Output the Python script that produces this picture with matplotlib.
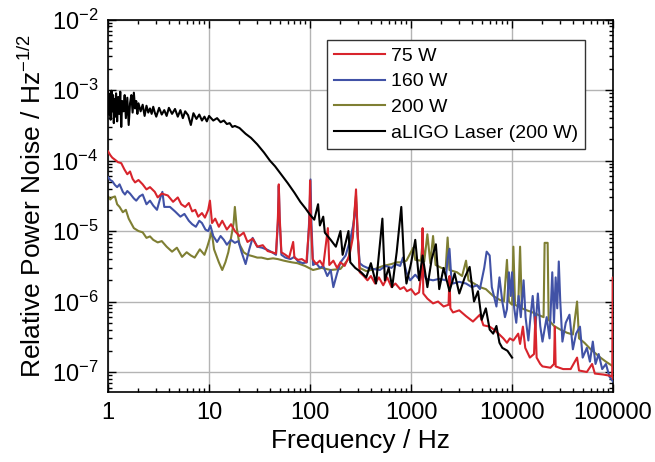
import matplotlib
matplotlib.use("Agg")
import matplotlib.pyplot as plt
from matplotlib.ticker import LogLocator, NullFormatter, FixedLocator, FixedFormatter

plt.rcParams['font.family'] = ['Liberation Sans', 'DejaVu Sans']
plt.rcParams['mathtext.fontset'] = 'custom'
plt.rcParams['mathtext.rm'] = 'Liberation Sans'
plt.rcParams['mathtext.it'] = 'Liberation Sans:italic'

# ---- data (frequency in Hz, RPN in 1/sqrt(Hz)) ----
f_75w = [1.0, 1.05, 1.1, 1.2, 1.25, 1.35, 1.45, 1.55, 1.65, 1.75, 1.85, 2.0, 2.2, 2.4,
         2.6, 2.9, 3.1, 3.4, 3.9, 4.4, 4.9, 5.3, 5.8, 6.3, 6.8, 7.3, 7.8, 8.5, 9.1, 9.8,
         10.2, 10.7, 11.5, 12.5, 13.5, 15, 16.5, 18, 20, 22, 24, 27, 30, 34, 38, 42, 46,
         48, 49, 50, 52, 57, 62, 68, 70, 76, 83, 92, 98, 100, 102, 106, 115, 125, 135,
         150, 155, 170, 185, 200, 220, 245, 265, 285, 295, 310, 340, 370, 400, 440, 480,
         530, 580, 640, 700, 780, 850, 910, 1000, 1100, 1200, 1280, 1300, 1320, 1450,
         1650, 1850, 2100, 2350, 2400, 2450, 2600, 3000, 3500, 4100, 4800, 5200, 6000,
         6600, 7500, 8200, 8900, 9500, 10300, 11500, 12000, 12800, 13500, 15000, 16500,
         17000, 17500, 19000, 20000, 24000, 26000, 26500, 27000, 32000, 38000, 44000,
         46000, 55000, 62000, 66000, 80000, 95000, 98000, 99500, 100000]
p_75w = [1.35e-4, 1.2e-4, 1.1e-4, 1.0e-4, 9.5e-5, 9.2e-5, 7.5e-5, 6.4e-5, 7.0e-5, 5.5e-5,
         4.9e-5, 5.3e-5, 4.6e-5, 3.9e-5, 4.2e-5, 3.6e-5, 3.0e-5, 3.4e-5, 3.2e-5, 2.6e-5,
         3.0e-5, 2.4e-5, 2.2e-5, 2.5e-5, 1.9e-5, 2.0e-5, 1.6e-5, 1.8e-5, 1.55e-5, 2.0e-5,
         2.7e-5, 1.3e-5, 1.5e-5, 1.15e-5, 1.4e-5, 1.05e-5, 1.25e-5, 1.0e-5, 8.5e-6, 9.5e-6,
         7.0e-6, 7.8e-6, 6.0e-6, 6.3e-6, 5.2e-6, 5.0e-6, 4.8e-6, 1.5e-5, 4.6e-5, 1.6e-5,
         5.0e-6, 4.6e-6, 4.2e-6, 7.0e-6, 4.2e-6, 3.9e-6, 4.0e-6, 3.6e-6, 1.2e-5, 5.2e-5,
         1.3e-5, 4.0e-6, 3.4e-6, 3.8e-6, 3.2e-6, 1.1e-5, 3.3e-6, 3.8e-6, 3.0e-6, 3.6e-6,
         3.2e-6, 4.5e-6, 8.0e-6, 3.9e-5, 1.0e-5, 2.6e-6, 2.3e-6, 2.0e-6, 2.3e-6, 1.8e-6,
         2.2e-6, 1.7e-6, 2.2e-6, 1.6e-6, 1.8e-6, 1.5e-6, 1.6e-6, 1.4e-6, 1.5e-6, 1.25e-6,
         1.35e-6, 3.0e-6, 1.1e-5, 1.3e-6, 1.1e-6, 9.4e-7, 1.0e-6, 8.5e-7, 9.0e-7, 2.3e-6,
         8.0e-7, 7.0e-7, 7.5e-7, 6.2e-7, 5.2e-7, 6.5e-7, 4.6e-7, 4.4e-7, 4.0e-7, 3.4e-7,
         3.0e-7, 2.6e-7, 3.0e-7, 2.8e-7, 3.5e-7, 2.5e-7, 4.4e-7, 2.2e-7, 1.6e-7, 1.8e-7,
         6.0e-7, 1.6e-7, 1.3e-7, 1.2e-7, 1.15e-7, 1.3e-7, 4.4e-7, 1.2e-7, 1.1e-7, 1.1e-7,
         1.6e-7, 1.05e-7, 1.0e-7, 1.3e-7, 9.5e-8, 9.2e-8, 8.8e-8, 8.5e-8, 2.2e-6, 8.0e-8]

f_160w = [1.0, 1.05, 1.1, 1.17, 1.23, 1.3, 1.4, 1.47, 1.55, 1.65, 1.8, 1.9, 2.05, 2.2,
          2.4, 2.6, 2.8, 3.05, 3.3, 3.45, 3.6, 4.1, 4.6, 5.2, 5.7, 6.3, 6.8, 7.4, 8.0, 8.5,
          9.2, 9.8, 10.3, 11, 12, 13, 14, 15, 16.5, 18, 19.5, 21, 23, 25, 27, 30, 33.5,
          38, 42, 46, 48, 49, 50, 52, 57, 64, 70, 76, 85, 93, 98, 101, 103, 107, 115, 125,
          135, 148, 160, 170, 185, 200, 225, 250, 270, 285, 295, 310, 335, 370, 420, 490,
          560, 640, 700, 780, 830, 900, 980, 1100, 1230, 1300, 1400, 1650, 1900, 2200,
          2300, 2400, 2500, 2600, 3000, 3500, 4000, 4500, 4800, 5300, 5600, 6000, 6300,
          7000, 7500, 8000, 8500, 8900, 9300, 9700, 10000, 10500, 11000, 11600, 12200,
          13000, 13600, 14500, 15200, 16000, 17000, 18000, 19000, 20000, 22000, 23500,
          25000, 26000, 27000, 28000, 29000, 30000, 31500, 34000, 37000, 40000, 43000,
          47000, 50000, 55000, 59000, 63000, 67000, 72000, 78000, 85000, 92000, 100000]
p_160w = [5.8e-5, 5.3e-5, 5.1e-5, 4.5e-5, 4.2e-5, 4.6e-5, 3.6e-5, 3.3e-5, 3.7e-5, 3.4e-5,
          2.9e-5, 2.7e-5, 3.1e-5, 3.3e-5, 2.4e-5, 2.7e-5, 2.3e-5, 2.0e-5, 3.0e-5, 3.6e-5,
          2.2e-5, 2.2e-5, 1.9e-5, 1.6e-5, 1.75e-5, 1.4e-5, 1.25e-5, 1.15e-5, 1.4e-5, 1.3e-5,
          1.05e-5, 1.0e-5, 1.2e-5, 8.5e-6, 7.0e-6, 8.5e-6, 7.5e-6, 6.4e-6, 7.5e-6, 6.8e-6,
          7.2e-6, 5.0e-6, 3.4e-6, 5.5e-6, 8.0e-6, 6.0e-6, 5.8e-6, 5.4e-6, 5.0e-6, 4.6e-6,
          1.3e-5, 4.4e-5, 1.4e-5, 4.6e-6, 4.2e-6, 4.0e-6, 4.3e-6, 3.7e-6, 3.5e-6, 3.6e-6,
          1.4e-5, 5.4e-5, 1.4e-5, 3.3e-6, 3.5e-6, 3.0e-6, 3.2e-6, 2.3e-6, 2.8e-6, 1.6e-6,
          2.5e-6, 3.6e-6, 4.5e-6, 7.6e-6, 1.3e-5, 2.6e-5, 9.0e-6, 3.5e-6, 3.2e-6, 3.0e-6,
          2.9e-6, 2.8e-6, 3.2e-6, 3.0e-6, 3.4e-6, 3.2e-6, 4.2e-6, 2.6e-6, 2.0e-6, 2.4e-6,
          2.0e-6, 3.0e-6, 2.1e-6, 2.0e-6, 2.1e-6, 2.0e-6, 4.0e-6, 5.6e-6, 2.2e-6, 1.8e-6,
          1.9e-6, 1.8e-6, 1.6e-6, 1.7e-6, 1.5e-6, 3.0e-6, 5.1e-6, 4.5e-6, 1.6e-6, 8.5e-7,
          2.2e-6, 1.0e-6, 6.0e-7, 7.8e-7, 2.6e-6, 1.2e-6, 2.6e-6, 8.0e-7, 5.0e-7, 1.2e-6,
          6.0e-7, 2.0e-6, 6.0e-7, 2.8e-7, 6.0e-7, 1.2e-6, 4.0e-7, 1.3e-6, 4.5e-7, 2.7e-7,
          6.0e-7, 3.0e-7, 2.6e-6, 5.0e-7, 2.2e-6, 8.0e-7, 3.7e-6, 1.0e-6, 2.7e-7, 5.0e-7,
          6.5e-7, 2.1e-7, 3.5e-7, 4.4e-7, 1.6e-7, 2.2e-7, 1.4e-7, 2.7e-7, 1.3e-7, 1.8e-7,
          1.1e-7, 1.3e-7, 8.6e-8, 7.3e-8]

f_200w = [1.0, 1.05, 1.1, 1.17, 1.23, 1.3, 1.4, 1.5, 1.6, 1.8, 2.0, 2.2, 2.4, 2.6, 2.8,
          3.1, 3.4, 3.8, 4.3, 4.8, 5.4, 6.0, 6.6, 7.2, 8.1, 9.0, 9.6, 10.2, 10.6, 11.2,
          12.5, 13.5, 14.5, 15.5, 16.5, 17.5, 18, 18.8, 20, 22, 24, 27, 30, 33, 38, 43,
          48, 55, 60, 66, 75, 89, 107, 130, 160, 200, 240, 265, 285, 295, 310, 360, 440,
          530, 640, 720, 800, 900, 1050, 1100, 1250, 1300, 1350, 1450, 1550, 1650, 1750,
          2000, 2200, 2300, 2400, 2850, 3200, 3500, 3700, 4200, 4800, 5500, 6500, 7600,
          8300, 8900, 9300, 10000, 10300, 10700, 11500, 12000, 12500, 14000, 16000, 18000,
          20500, 21000, 22500, 23000, 26000, 30000, 35000, 40000, 44000, 46000, 52000,
          60000, 68000, 75000, 85000, 100000]
p_200w = [3.1e-5, 2.8e-5, 3.0e-5, 3.1e-5, 2.4e-5, 2.2e-5, 1.85e-5, 2.0e-5, 1.5e-5, 1.1e-5,
          1.0e-5, 9.6e-6, 8.0e-6, 8.4e-6, 7.5e-6, 6.9e-6, 7.2e-6, 6.0e-6, 5.1e-6, 5.8e-6,
          4.3e-6, 5.0e-6, 4.5e-6, 4.2e-6, 5.5e-6, 4.6e-6, 6.0e-6, 8.0e-6, 1.0e-5, 5.5e-6,
          3.6e-6, 2.8e-6, 3.6e-6, 5.0e-6, 8.0e-6, 1.3e-5, 2.2e-5, 1.1e-5, 6.5e-6, 5.0e-6,
          4.6e-6, 4.4e-6, 4.2e-6, 4.2e-6, 4.0e-6, 4.1e-6, 4.0e-6, 3.8e-6, 3.7e-6, 3.6e-6,
          3.5e-6, 3.2e-6, 2.8e-6, 3.0e-6, 2.8e-6, 2.9e-6, 4.0e-6, 1.0e-5, 3.2e-5, 1.0e-5,
          3.0e-6, 2.7e-6, 2.9e-6, 3.2e-6, 3.4e-6, 3.6e-6, 3.6e-6, 3.8e-6, 5.8e-6, 3.9e-6,
          3.8e-6, 7.0e-6, 3.7e-6, 9.0e-6, 3.5e-6, 8.5e-6, 3.3e-6, 3.0e-6, 2.9e-6, 8.1e-6,
          2.8e-6, 2.6e-6, 2.3e-6, 3.8e-6, 2.0e-6, 1.8e-6, 1.6e-6, 1.5e-6, 1.2e-6, 1.05e-6,
          1.0e-6, 3.9e-6, 1.0e-6, 9.0e-7, 6.0e-6, 9.0e-7, 8.5e-7, 6.0e-6, 8.0e-7, 7.5e-7,
          7.0e-7, 6.5e-7, 6.0e-7, 6.8e-6, 6.8e-6, 5.5e-7, 4.5e-7, 4.0e-7, 3.6e-7, 3.4e-7,
          1.0e-6, 3.0e-7, 2.6e-7, 2.1e-7, 1.8e-7, 1.6e-7, 1.4e-7, 1.2e-7]

f_aligo = [1.0, 1.02, 1.04, 1.06, 1.08, 1.1, 1.12, 1.14, 1.16, 1.18, 1.2, 1.23, 1.26,
           1.29, 1.32, 1.35, 1.38, 1.42, 1.46, 1.5, 1.55, 1.6, 1.65, 1.7, 1.75, 1.8, 1.85,
           1.9, 1.95, 2.0, 2.1, 2.2, 2.3, 2.4, 2.5, 2.6, 2.7, 2.8, 2.9, 3.0, 3.2, 3.4, 3.6,
           3.8, 4.0, 4.3, 4.6, 4.9, 5.2, 5.5, 5.8, 6.2, 6.6, 7.0, 7.5, 8.0, 8.5, 9.0, 9.5,
           10, 11, 12, 13, 14, 15, 16, 17, 18, 20, 23, 26, 30, 35, 40, 45, 50, 60, 70, 80,
           90, 100, 110, 120, 125, 135, 140, 160, 180, 200, 210, 240, 250, 280, 320, 360,
           400, 450, 520, 550, 600, 650, 720, 800, 850, 900, 1000, 1100, 1200, 1300, 1450,
           1600, 1760, 1900, 2100, 2400, 2700, 3000, 3400, 3800, 4200, 4600, 5000, 5500,
           6000, 6500, 7000, 7500, 8000, 9000, 10000]
p_aligo = [9.5e-4, 4.5e-4, 8.8e-4, 3.8e-4, 9.8e-4, 5.0e-4, 8.5e-4, 3.4e-4, 7.5e-4, 4.2e-4,
           9.0e-4, 3.6e-4, 8.0e-4, 4.6e-4, 9.5e-4, 3.0e-4, 7.0e-4, 5.0e-4, 8.5e-4, 4.0e-4,
           7.8e-4, 3.2e-4, 6.5e-4, 8.5e-4, 4.8e-4, 9.2e-4, 5.5e-4, 7.0e-4, 4.6e-4, 6.5e-4,
           5.0e-4, 6.2e-4, 4.3e-4, 6.0e-4, 4.8e-4, 5.5e-4, 4.6e-4, 5.8e-4, 4.8e-4, 4.2e-4,
           5.6e-4, 4.5e-4, 5.2e-4, 4.3e-4, 5.6e-4, 4.6e-4, 5.4e-4, 4.2e-4, 5.2e-4, 4.0e-4,
           5.0e-4, 4.4e-4, 3.2e-4, 4.7e-4, 3.9e-4, 4.5e-4, 3.7e-4, 4.2e-4, 3.6e-4, 4.3e-4,
           3.7e-4, 4.0e-4, 3.5e-4, 3.7e-4, 3.3e-4, 3.4e-4, 3.0e-4, 3.1e-4, 2.9e-4, 2.4e-4,
           2.1e-4, 1.7e-4, 1.3e-4, 1.0e-4, 8.3e-5, 6.8e-5, 4.8e-5, 3.5e-5, 2.6e-5, 2.1e-5,
           1.7e-5, 1.45e-5, 2.4e-5, 1.2e-5, 1.6e-5, 9.5e-6, 7.5e-6, 6.0e-6, 1.0e-5, 4.6e-6,
           1.0e-5, 3.6e-6, 3.0e-6, 2.6e-6, 2.2e-6, 3.5e-6, 1.8e-6, 1.5e-5, 2.0e-6, 3.0e-6,
           1.6e-6, 5.0e-6, 2.2e-5, 4.0e-6, 1.8e-6, 3.5e-6, 7.5e-6, 2.0e-6, 4.5e-6, 1.6e-6,
           4.0e-6, 6.5e-6, 1.5e-6, 3.0e-6, 1.4e-6, 2.5e-6, 1.3e-6, 2.2e-6, 3.1e-6, 1.0e-6,
           1.4e-6, 5.5e-7, 8.0e-7, 4.0e-7, 3.5e-7, 4.5e-7, 2.6e-7, 2.2e-7, 2.0e-7, 1.6e-7]

x_ticks = [1, 10, 100, 1000, 10000, 100000]
x_labels = ["1", "10", "100", "1000", "10000", "100000"]

fig = plt.figure(figsize=(6.55, 4.62), dpi=100)
ax = fig.add_axes([0.165, 0.1515, 0.771, 0.806])

ax.plot(f_200w, p_200w, color="#7f7f33", lw=1.5, label="200 W", zorder=2)
ax.plot(f_160w, p_160w, color="#4152a6", lw=1.5, label="160 W", zorder=3)
ax.plot(f_aligo, p_aligo, color="black", lw=1.5, label="aLIGO Laser (200 W)", zorder=5)
ax.plot(f_75w, p_75w, color="#d8242c", lw=1.5, label="75 W", zorder=4)

ax.set_xscale("log")
ax.set_yscale("log")
ax.set_xlim(1, 100000)
ax.set_ylim(5.2e-8, 1e-2)

ax.xaxis.set_major_locator(FixedLocator(x_ticks))
ax.xaxis.set_major_formatter(FixedFormatter(x_labels))
ax.xaxis.set_minor_locator(LogLocator(base=10, subs=range(2, 10), numticks=20))
ax.xaxis.set_minor_formatter(NullFormatter())
ax.yaxis.set_major_locator(LogLocator(base=10, numticks=20))
ax.yaxis.set_minor_locator(LogLocator(base=10, subs=range(2, 10), numticks=20))
ax.yaxis.set_minor_formatter(NullFormatter())

ax.tick_params(which="both", direction="in", top=True, right=True, labelsize=17, width=1.0)
ax.tick_params(which="major", length=6, pad=7)
ax.tick_params(which="minor", length=3)
for s in ax.spines.values():
    s.set_linewidth(1.2)

ax.grid(True, which="major", color="#b4b4b4", lw=1.0, zorder=0)
ax.set_axisbelow(True)

ax.set_xlabel("Frequency / Hz", fontsize=19, labelpad=4)
ax.set_ylabel("Relative Power Noise / Hz$^{-1/2}$", fontsize=19, labelpad=4)

handles, labels = ax.get_legend_handles_labels()
order = [labels.index(l) for l in ["75 W", "160 W", "200 W", "aLIGO Laser (200 W)"]]
leg = ax.legend([handles[i] for i in order], [labels[i] for i in order],
                loc="upper right", bbox_to_anchor=(0.945, 0.945), fontsize=14,
                frameon=True, fancybox=False, edgecolor="#333333", framealpha=1,
                handlelength=2.6, handletextpad=0.35, labelspacing=0.42,
                borderpad=0.35, borderaxespad=0)
leg.get_frame().set_linewidth(1.0)

fig.savefig("out.png", dpi=100)
